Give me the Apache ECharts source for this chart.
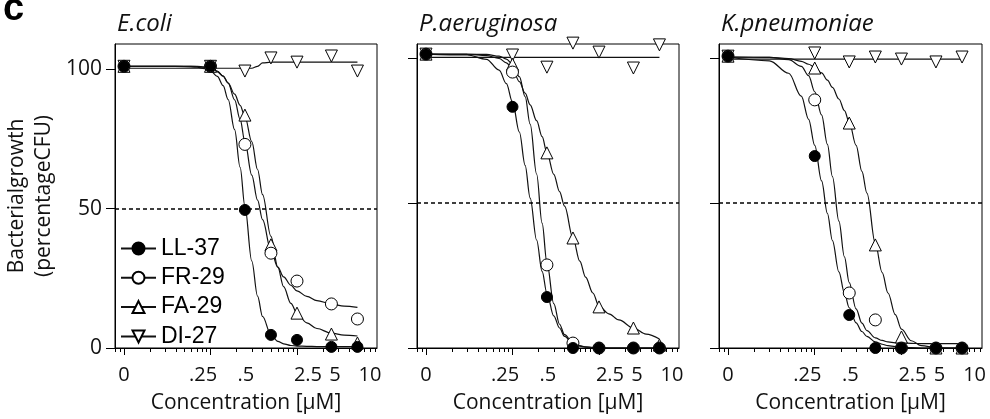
<!DOCTYPE html>
<html><head><meta charset="utf-8">
<script src="https://cdn.jsdelivr.net/npm/echarts@6/dist/echarts.min.js"></script>
<style>html,body{margin:0;padding:0;background:#fff}#c{width:990px;height:419px}</style>
</head><body><div id="c"></div>
<script>
// ---------- data ----------
const panelTitles = ['E.coli', 'P.aeruginosa', 'K.pneumoniae'];
const compounds = ['LL-37', 'FR-29', 'FA-29', 'DI-27'];
const conc = [0, 0.1, 0.25, 0.5, 1, 2.5, 5];           // µM, measured points
const xTickLabels = ['0', '.25', '.5', '2.5', '5', '10'];
const yTickValues = [0, 50, 100];
const refLine = 50;

// measured points (% CFU)
const ecoliLL = [101, 101, 49.5, 4.7, 2.9, 0.4, 0.4];
const ecoliFR = [101, 101, 73, 34, 24, 15.8, 10.4];
const ecoliFA = [101, 101, 83.5, 37, 12.5, 5, 1.8];
const ecoliDI = [101, 101, 99.3, 104, 102.5, 104.7, 99.3];
const paerLL = [101.5, 83.3, 17.6, 0, 0, 0, 0];
const paerFR = [101.5, 95.3, 28.7, 1.7, 0, 0, 0];
const paerFA = [101.5, 98, 67.4, 38, 14.2, 6.9, 1];
const paerDI = [101.5, 101.2, 97, 105.3, 102.2, 96.7, 104.7];
const kpnLL = [100.8, 66.3, 11.4, 0, 0, 0, 0];
const kpnFR = [100.8, 85.7, 19, 9.7, 0, 0, 0];
const kpnFA = [100.8, 96.7, 77.7, 35.6, 3.8, 0, 0];
const kpnDI = [100.8, 101.9, 98.8, 100.5, 99.8, 98.8, 100.5];

// fitted curves
const curveConc = [0.01, 0.03, 0.05, 0.07, 0.085, 0.1, 0.12, 0.14, 0.16, 0.19, 0.22, 0.25, 0.3, 0.35, 0.4, 0.5, 0.6, 0.7, 0.85, 1, 1.3, 1.7, 2.5, 3.5, 5];
const ecoliFitLL = [101, 101, 100.9, 100.7, 100.2, 99.4, 97.4, 94.1, 89.1, 78.3, 64.8, 50.8, 31.2, 18.6, 11.3, 4.8, 2.4, 1.5, 0.9, 0.7, 0.6, 0.5, 0.5, 0.5, 0.5];
const ecoliFitFR = [101, 101, 101, 101, 100.8, 100.4, 99.3, 97.5, 95, 89, 82, 74, 62, 53, 46, 35, 29, 25.5, 22.5, 20.5, 18.5, 17, 15.8, 15, 14.6];
const ecoliFitFA = [101, 101, 101, 100.9, 100.6, 100.2, 99, 97.5, 95, 91, 87, 83, 74, 64, 55, 40, 29, 22, 16, 12.5, 9, 7, 5.3, 4.6, 4.3];
const ecoliFitDI = [100.3, 100.3, 100.3, 100.3, 100.3, 100.3, 100.3, 100.3, 100.3, 100.3, 100.3, 100.3, 100.3, 101, 102.2, 102.5, 102.5, 102.5, 102.5, 102.5, 102.5, 102.5, 102.5, 102.5, 102.5];
const paerFitLL = [101.5, 101.2, 99.7, 96, 91.3, 85, 74.6, 63.1, 51.8, 37.3, 26.5, 18.9, 11.1, 6.9, 4, 1.5, 0.6, 0.3, 0.1, 0, 0, 0, 0, 0, 0];
const paerFitFR = [101.5, 101.5, 101.4, 100.8, 99.8, 98, 93.7, 86.8, 77.3, 60.1, 43.1, 29.5, 15.3, 8.2, 4.6, 1.7, 0.8, 0.4, 0.2, 0.1, 0, 0, 0, 0, 0];
const paerFitFA = [101.5, 101.4, 101, 100, 98.5, 96.5, 92, 88, 84, 78.5, 73, 67.5, 60, 54, 49, 38, 30, 24.5, 19, 14.5, 11.8, 9.7, 6.9, 4.8, 3.1];
const paerFitDI = [100.4, 100.4, 100.4, 100.4, 100.4, 100.4, 100.4, 100.4, 100.4, 100.4, 100.4, 100.4, 100.4, 100.4, 100.4, 100.4, 100.4, 100.4, 100.4, 100.4, 100.4, 100.4, 100.4, 100.4, 100.4];
const kpnFitLL = [100.5, 99.2, 94.9, 87, 79, 70, 57.7, 46.5, 37.1, 26.3, 19, 13.9, 8.7, 5.7, 4, 2.1, 1.3, 0.8, 0.5, 0.3, 0.1, 0, 0, 0, 0];
const kpnFitFR = [100.5, 100.4, 99.6, 97.3, 94.1, 88.5, 80.5, 70.3, 59.2, 43.8, 31.5, 22.6, 13.5, 8.6, 6, 3.5, 2.6, 2.1, 1.8, 1.7, 1.6, 1.5, 1.5, 1.5, 1.5];
const kpnFitFA = [100.5, 100.4, 100, 99, 98, 97, 95, 92.5, 90, 86, 82, 78, 70, 61, 53.5, 36, 26, 19, 11.5, 6.5, 2.5, 0.8, 0.1, 0, 0];
const kpnFitDI = [99.8, 99.8, 99.8, 99.8, 99.8, 99.8, 99.8, 99.8, 99.8, 99.8, 99.8, 99.8, 99.8, 99.8, 99.8, 99.8, 99.8, 99.8, 99.8, 99.8, 99.8, 99.8, 99.8, 99.8, 99.8];

const points = [[ecoliLL, ecoliFR, ecoliFA, ecoliDI], [paerLL, paerFR, paerFA, paerDI], [kpnLL, kpnFR, kpnFA, kpnDI]];
const fits = [[ecoliFitLL, ecoliFitFR, ecoliFitFA, ecoliFitDI], [paerFitLL, paerFitFR, paerFitFA, paerFitDI], [kpnFitLL, kpnFitFR, kpnFitFA, kpnFitDI]];

// ---------- layout / style ----------
const ZERO_AT = 0.01;                 // where "0" is drawn on the log axis
const xLabelAt = [0.01, 0.082, 0.257, 1.34, 2.75, 6.98];
const majorTicks = [0.01, 0.1, 1];
const minorTicks = [0.008, 0.009, 0.02, 0.03, 0.04, 0.05, 0.06, 0.07, 0.08, 0.09, 0.2, 0.3, 0.4, 0.5, 0.6, 0.7, 0.8, 0.9, 2, 3, 4, 5, 6, 7, 8];
const lg = c => Math.log10(c === 0 ? ZERO_AT : c);
const grids = [
  { left: 115, top: 44, width: 262, height: 304, xMax: 0.925, yMax: 109 },
  { left: 417, top: 44, width: 262, height: 304, xMax: 0.925, yMax: 105 },
  { left: 719, top: 44, width: 263, height: 304, xMax: 0.929, yMax: 105 }
];
const XMIN = -2.104;
const sym = [
  { symbol: 'circle', fill: '#000', size: 11, rot: 0 },
  { symbol: 'circle', fill: '#fff', size: 12, rot: 0 },
  { symbol: 'triangle', fill: '#fff', size: 12, rot: 0 },
  { symbol: 'triangle', fill: '#fff', size: 12, rot: 180 }
];
const FONT = 'Open Sans';
const TXT = '#111';
const labelLog = xLabelAt.map(lg);

const gridOpt = [], xAxes = [], yAxes = [], series = [];
grids.forEach((g, i) => {
  gridOpt.push({ left: g.left, top: g.top, width: g.width, height: g.height, show: true,
    borderColor: '#000', borderWidth: 1, backgroundColor: 'transparent', containLabel: false, outerBoundsMode: 'none' });
  xAxes.push({
    gridIndex: i, type: 'value', min: XMIN, max: g.xMax, position: 'bottom',
    axisLine: { show: true, onZero: false, lineStyle: { color: '#000', width: 1 } },
    axisTick: { show: true, customValues: majorTicks.map(lg), length: 7, lineStyle: { color: '#000', width: 1 } },
    axisLabel: { show: true, customValues: labelLog, margin: 17, fontSize: 20, fontFamily: FONT, color: TXT,
      formatter: v => { const k = labelLog.findIndex(p => Math.abs(p - v) < 1e-4); return k >= 0 ? xTickLabels[k] : ''; } },
    splitLine: { show: false },
    name: 'Concentration [\u03bcM]', nameLocation: 'middle', nameGap: 45, nameMoveOverlap: false,
    nameTextStyle: { fontSize: 21, fontFamily: FONT, color: TXT }
  });
  xAxes.push({
    gridIndex: i, type: 'value', min: XMIN, max: g.xMax, position: 'bottom',
    axisLine: { show: false, onZero: false },
    axisTick: { show: true, customValues: minorTicks.map(lg), length: 4, lineStyle: { color: '#000', width: 1 } },
    axisLabel: { show: false }, splitLine: { show: false }
  });
  yAxes.push({
    gridIndex: i, type: 'value', min: 0, max: g.yMax,
    axisLine: { show: true, onZero: false, lineStyle: { color: '#000', width: 1 } },
    axisTick: { show: true, customValues: yTickValues, length: 9, lineStyle: { color: '#000', width: 1 } },
    axisLabel: { show: i === 0, customValues: yTickValues, margin: 13, fontSize: 21, fontFamily: FONT, color: TXT },
    splitLine: { show: false },
    name: i === 0 ? 'Bacterialgrowth\n(percentageCFU)' : '', nameLocation: 'middle', nameGap: 57, nameRotate: 90, nameMoveOverlap: false,
    nameTextStyle: { fontSize: 21, lineHeight: 27, fontFamily: FONT, color: TXT }
  });
});

// fitted curves first (legend icons use these)
grids.forEach((g, i) => {
  compounds.forEach((name, k) => {
    const s = {
      type: 'line', name, xAxisIndex: 2 * i, yAxisIndex: i,
      data: curveConc.map((c, j) => [lg(c), fits[i][k][j]]),
      symbol: sym[k].symbol, symbolSize: sym[k].size, symbolRotate: sym[k].rot, showSymbol: false,
      smooth: 0.35, smoothMonotone: 'x',
      lineStyle: { color: '#111', width: 1.2 },
      itemStyle: { color: sym[k].fill, borderColor: '#000', borderWidth: 1 },
      silent: true, z: 2, animation: false
    };
    if (k === 3) {
      s.markLine = { silent: true, symbol: 'none', label: { show: false }, animation: false,
        lineStyle: { type: [4, 3], color: '#000', width: 1.6 }, data: [{ yAxis: refLine }] };
    }
    series.push(s);
  });
});
// measured points
grids.forEach((g, i) => {
  [3, 2, 1, 0].forEach(k => {
    series.push({
      type: 'scatter', name: compounds[k], xAxisIndex: 2 * i, yAxisIndex: i,
      data: conc.map((c, j) => [lg(c), points[i][k][j]]),
      symbol: sym[k].symbol, symbolSize: sym[k].size, symbolRotate: sym[k].rot,
      itemStyle: { color: sym[k].fill, borderColor: '#000', borderWidth: 1, opacity: 1 },
      clip: false, silent: true, z: 3, animation: false
    });
  });
});

const titles = [{ text: 'c', left: -2, top: -14, textStyle: { fontSize: 38, fontWeight: 'bold', fontFamily: 'Liberation Sans', color: '#000' } }];
panelTitles.forEach((t, i) => titles.push({ text: t, left: grids[i].left - 3, top: 7,
  textStyle: { fontSize: 24, fontStyle: 'italic', fontWeight: 'normal', fontFamily: FONT, color: TXT } }));

const chart = echarts.init(document.getElementById('c'), null, { renderer: 'canvas' });
chart.setOption({
  animation: false,
  backgroundColor: '#fff',
  title: titles,
  legend: {
    data: compounds, orient: 'vertical', left: 115, top: 232, padding: 5,
    itemWidth: 35, itemHeight: 15, itemGap: 6.3, selectedMode: false,
    textStyle: { fontSize: 23, fontFamily: 'Liberation Sans', color: '#000', lineHeight: 22 }
  },
  grid: gridOpt, xAxis: xAxes, yAxis: yAxes, series
});
</script></body></html>
